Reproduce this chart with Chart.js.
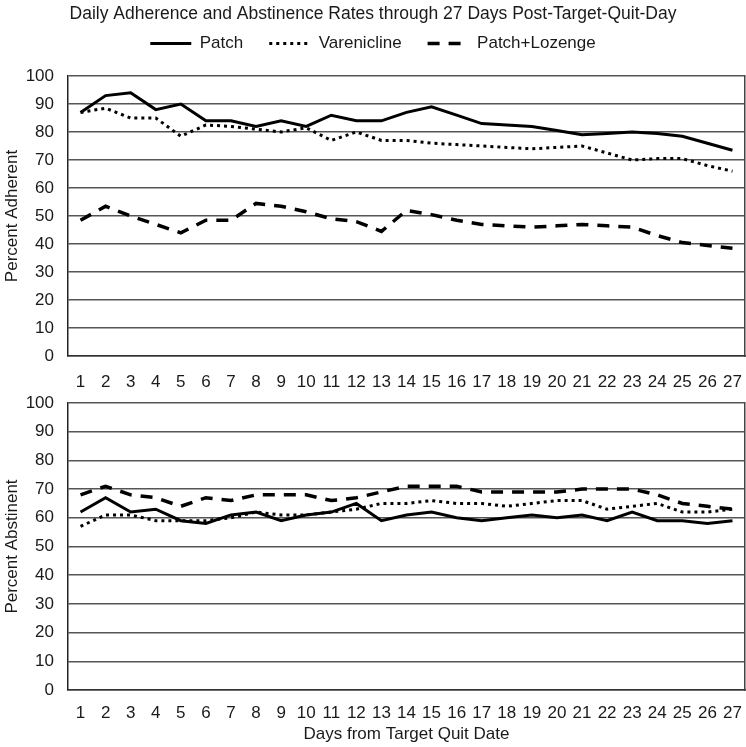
<!DOCTYPE html>
<html>
<head>
<meta charset="utf-8">
<script src="https://cdn.jsdelivr.net/npm/chart.js@4.4.1/dist/chart.umd.min.js"></script>
<style>
  html, body { margin:0; padding:0; background:#fff; }
  #wrap { position:relative; width:746px; height:747px; overflow:hidden; }
  .box { position:absolute; left:0; width:746px; }
  #topBox { top:0; height:400px; }
  #botBox { top:390px; height:357px; }
</style>
</head>
<body>
<div id="wrap">
  <div class="box" id="topBox"><canvas id="adhereChart"></canvas></div>
  <div class="box" id="botBox"><canvas id="abstChart"></canvas></div>
</div>
<script>
const days = ['1','2','3','4','5','6','7','8','9','10','11','12','13','14','15','16','17','18','19','20','21','22','23','24','25','26','27'];
const yTicks = [0,10,20,30,40,50,60,70,80,90,100];

// percent adherent
const adherePatch = [87,93,94,88,90,84,84,82,84,82,86,84,84,87,89,86,83,82.5,82,80.5,79,79.5,80,79.5,78.5,76,73.5];
const adhereVaren = [87,88.5,85,85,78.5,82.5,82,81,80,81.5,77,80,77,77,76,75.5,75,74.5,74,74.5,75,72.5,70,70.5,70.5,68,66];
const adhereLoz   = [48.5,53.5,50,47,44,48.5,48.5,54.5,53.5,51.5,49,48,44.5,52,50.5,48.5,47,46.5,46,46.5,47,46.5,46,43,40.5,39.5,38.5];

// percent abstinent
const abstPatch = [62,67,62,63,59,58,61,62,59,61,62,65,59,61,62,60,59,60,61,60,61,59,62,59,59,58,59];
const abstVaren = [57,61,61,59,59,59,60,62,61,61,62,63,65,65,66,65,65,64,65,66,66,63,64,65,62,62,63];
const abstLoz   = [68,71,68,67,64,67,66,68,68,68,66,67,69,71,71,71,69,69,69,69,70,70,70,68,65,64,63];

const FONT = "'Liberation Sans Narrow', 'Liberation Sans', Arial, sans-serif";
const TXT = '#1a1a1a';

function series(patch, varen, loz){
  return [
    { label:'Patch', data:patch, borderColor:'#000', borderWidth:3, borderDash:[] },
    { label:'Varenicline', data:varen, borderColor:'#000', borderWidth:3, borderDash:[3,4] },
    { label:'Patch+Lozenge', data:loz, borderColor:'#000', borderWidth:3.5, borderDash:[12,9] }
  ].map(d => Object.assign(d, { pointRadius:0, tension:0, fill:false, backgroundColor:'#000', borderCapStyle:'butt' }));
}

function scales(yTitle, xTitle, xHeight, tickPad, xTitlePad){
  return {
    x: {
      type:'category', offset:true,
      grid:{ display:false, drawTicks:false },
      border:{ display:true, color:'#333', width:1.5 },
      ticks:{ color:TXT, font:{ family:FONT, size:17 }, padding:tickPad, maxRotation:0, autoSkip:false },
      title:{ display:!!xTitle, text:xTitle, color:TXT, font:{ family:FONT, size:17 }, padding:{ top:0, bottom:xTitlePad } },
      // fixed height, and no extra side padding for the edge labels
      afterFit: s => { s.height = xHeight; s.paddingLeft = 0; s.paddingRight = 0; }
    },
    y: {
      min:0, max:100,
      afterBuildTicks: s => { s.ticks = yTicks.map(v => ({ value:v })); },
      grid:{ color:'#555', lineWidth:1.5, drawTicks:false },
      border:{ display:true, color:'#222', width:1.5 },
      ticks:{ color:TXT, font:{ family:FONT, size:17 }, padding:14 },
      title:{ display:true, text:yTitle, color:TXT, font:{ family:FONT, size:17 }, padding:{ top:2, bottom:0 } },
      afterFit: s => { s.width = 68; s.paddingTop = 0; s.paddingBottom = 0; }
    },
    y2: {
      position:'right', min:0, max:100,
      grid:{ display:false, drawTicks:false },
      border:{ display:true, color:'#444', width:1.5 },
      ticks:{ display:false },
      afterFit: s => { s.width = 1; s.paddingTop = 0; s.paddingBottom = 0; }
    }
  };
}

function legendLabels(chart){
  // point-style legend items lose the dash, copy it back from the dataset
  return Chart.defaults.plugins.legend.labels.generateLabels(chart).map((it, i) => {
    const ds = chart.data.datasets[i];
    it.lineDash = ds.borderDash;
    it.lineWidth = ds.borderWidth;
    it.strokeStyle = '#000';
    return it;
  });
}

function renderTop(){
  const sc = scales('Percent Adherent', '', 44, 16, 0);
  // empty spacer between legend and plot
  sc.xTop = { type:'category', position:'top', grid:{ display:false, drawTicks:false }, border:{ display:false },
    ticks:{ display:false }, afterFit: s => { s.height = 14; s.paddingLeft = 0; s.paddingRight = 0; } };
  new Chart(document.getElementById('adhereChart'), {
    type:'line',
    data:{ labels:days, datasets:series(adherePatch, adhereVaren, adhereLoz) },
    options:{
      responsive:true, maintainAspectRatio:false, animation:false, devicePixelRatio:1,
      layout:{ padding:0 },
      plugins:{
        title:{ display:true, text:'Daily Adherence and Abstinence Rates through 27 Days Post-Target-Quit-Day',
          color:TXT, font:{ family:FONT, size:17.5, weight:'normal' }, padding:{ top:4, bottom:-16 } },
        legend:{ display:true, position:'top',
          labels:{ usePointStyle:true, pointStyle:'line', pointStyleWidth:41, color:TXT,
            font:{ family:FONT, size:17 }, padding:26, generateLabels:legendLabels } },
        tooltip:{ enabled:false }
      },
      scales:sc
    }
  });
}

function renderBottom(){
  new Chart(document.getElementById('abstChart'), {
    type:'line',
    data:{ labels:days, datasets:series(abstPatch, abstVaren, abstLoz) },
    options:{
      responsive:true, maintainAspectRatio:false, animation:false, devicePixelRatio:1,
      layout:{ padding:{ top:13, left:0, right:0, bottom:0 } },
      plugins:{ legend:{ display:false }, title:{ display:false }, tooltip:{ enabled:false } },
      scales:scales('Percent Abstinent', 'Days from Target Quit Date', 57, 13, 2)
    }
  });
}

renderTop();
renderBottom();
</script>
</body>
</html>
